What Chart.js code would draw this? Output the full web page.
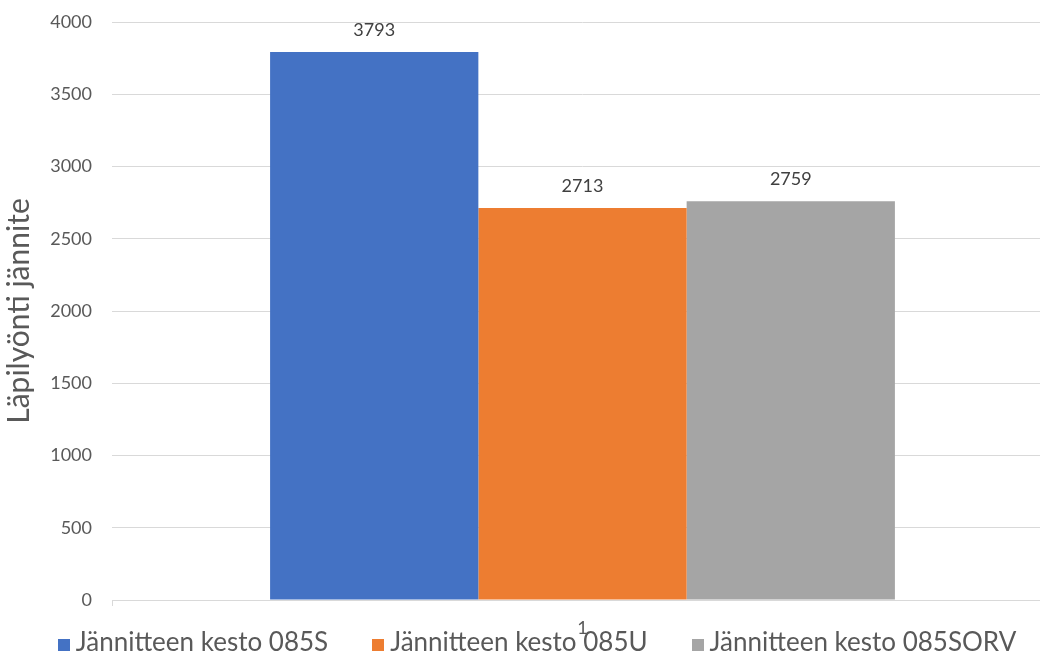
<!DOCTYPE html>
<html>
<head>
<meta charset="utf-8">
<script src="https://cdn.jsdelivr.net/npm/chart.js@4/dist/chart.umd.min.js"></script>
<style>
  html, body { margin: 0; padding: 0; background: #fff; overflow: hidden; }
  #wrap { width: 1040px; height: 659px; overflow: hidden; position: relative; }
  #chart { position: absolute; left: 0; top: 0; }
</style>
</head>
<body>
<div id="wrap">
  <canvas id="chart" width="1060" height="659" role="img" aria-label="Läpilyönti jännite"></canvas>
</div>
<script>
const categories = ['1'];
const seriesNames = ['Jännitteen kesto 085S', 'Jännitteen kesto 085U', 'Jännitteen kesto 085SORV'];
const values085S = [3793];
const values085U = [2713];
const values085SORV = [2759];
const seriesColors = ['#4472C4', '#ED7D31', '#A5A5A5'];
const yTicks = [0, 500, 1000, 1500, 2000, 2500, 3000, 3500, 4000];

const TXT = '#595959';
const FONT = 'Lato, "Liberation Sans", sans-serif';

// value labels above each bar
const barValues = {
  id: 'barValues',
  afterDatasetsDraw(chart) {
    const ctx = chart.ctx;
    ctx.save();
    ctx.font = '18px ' + FONT;
    ctx.fillStyle = '#404040';
    ctx.textAlign = 'center';
    ctx.textBaseline = 'middle';
    chart.data.datasets.forEach((ds, i) => {
      chart.getDatasetMeta(i).data.forEach((bar, j) => {
        ctx.fillText(String(ds.data[j]), bar.x, bar.y - 22);
      });
    });
    ctx.restore();
  }
};

// tiny tick at the left end of the x axis line
const axisTick = {
  id: 'axisTick',
  afterDraw(chart) {
    const a = chart.chartArea, ctx = chart.ctx;
    ctx.save();
    ctx.strokeStyle = '#d9d9d9';
    ctx.lineWidth = 1;
    ctx.beginPath();
    ctx.moveTo(a.left + 0.5, a.bottom);
    ctx.lineTo(a.left + 0.5, a.bottom + 6);
    ctx.stroke();
    ctx.restore();
  }
};

// legend row along the bottom, spaced like the office-style original
const bottomLegend = {
  id: 'bottomLegend',
  afterDraw(chart) {
    const ctx = chart.ctx;
    const box = 12, gap = 6, between = 44, centerX = 537, y = 643;
    ctx.save();
    ctx.font = '26px ' + FONT;
    ctx.textBaseline = 'middle';
    const items = chart.data.datasets.map(ds => ({ text: ds.label, color: ds.backgroundColor, w: ctx.measureText(ds.label).width }));
    const total = items.reduce((s, it) => s + box + gap + it.w, 0) + between * (items.length - 1);
    let x = centerX - total / 2;
    items.forEach(it => {
      ctx.fillStyle = it.color;
      ctx.fillRect(Math.round(x), y - box / 2 + 2, box, box);
      ctx.fillStyle = TXT;
      ctx.fillText(it.text, x + box + gap, y);
      x += box + gap + it.w + between;
    });
    ctx.restore();
  }
};

new Chart(document.getElementById('chart'), {
  type: 'bar',
  data: {
    labels: categories,
    datasets: [
      { label: seriesNames[0], data: values085S, backgroundColor: seriesColors[0] },
      { label: seriesNames[1], data: values085U, backgroundColor: seriesColors[1] },
      { label: seriesNames[2], data: values085SORV, backgroundColor: seriesColors[2] }
    ]
  },
  options: {
    responsive: false,
    animation: false,
    devicePixelRatio: 1,
    categoryPercentage: 0.664,
    barPercentage: 1,
    layout: { padding: { top: 0, right: 7, left: 0, bottom: 0 } },
    plugins: {
      legend: { display: false },
      tooltip: { enabled: false }
    },
    scales: {
      x: {
        afterFit: s => { s.height = 59; },
        grid: { display: false, drawTicks: false },
        border: { color: '#d9d9d9' },
        ticks: { color: TXT, padding: 17, font: { family: FONT, size: 18 } }
      },
      y: {
        min: 0,
        max: 4000,
        afterBuildTicks: s => { s.ticks = yTicks.map(v => ({ value: v })); },
        afterFit: s => { s.width = 112; s.paddingTop = 22; },
        grid: { color: '#d9d9d9', drawTicks: false },
        border: { display: false },
        ticks: { color: TXT, padding: 20, font: { family: FONT, size: 18 }, callback: v => String(v) },
        title: {
          display: true,
          text: 'Läpilyönti jännite',
          color: TXT,
          padding: { top: 1, bottom: 0 },
          font: { family: FONT, size: 30 }
        }
      }
    }
  },
  plugins: [barValues, axisTick, bottomLegend]
});
</script>
</body>
</html>
